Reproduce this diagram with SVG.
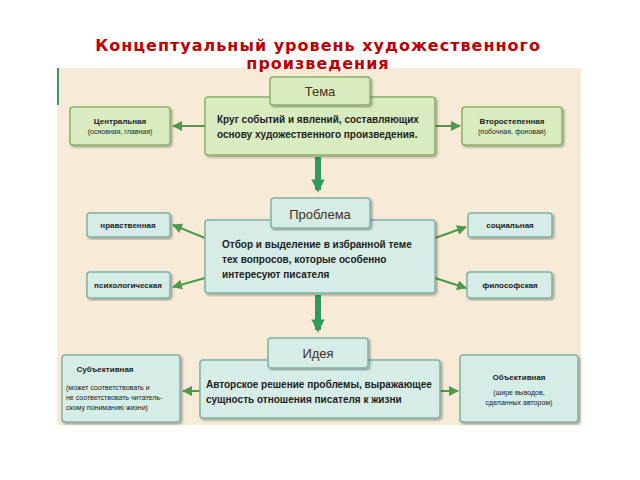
<svg xmlns="http://www.w3.org/2000/svg" width="640" height="480" viewBox="0 0 640 480">
<style>
text{font-family:"Liberation Sans",Arial,sans-serif;fill:#222}
.t{font-family:"DejaVu Sans",sans-serif;font-weight:bold;font-size:16px;letter-spacing:1px;fill:#c00000;text-anchor:middle}
.g{fill:#d9ecc0;stroke:#8ab36a;stroke-width:1.5}
.b{fill:#d6ece6;stroke:#7fb3a6;stroke-width:1.5}
.m{font-size:10px;font-weight:bold}
.s{font-size:7px;text-anchor:middle}
.sl{font-size:7px}
.l{font-size:8px;font-weight:bold;text-anchor:middle}
.h{font-size:13px;text-anchor:middle;fill:#4a3020}
.c{stroke:#4f9a4a;stroke-width:2;fill:none}
.d{stroke:#2f9a5a;stroke-width:6;fill:none}
</style>
<defs>
<marker id="a" viewBox="0 0 10 10" refX="9" refY="5" markerWidth="5" markerHeight="5" orient="auto"><path d="M0,0L10,5L0,10z" fill="#4f9a4a"/></marker>
<marker id="da" viewBox="0 0 10 10" refX="8" refY="5" markerWidth="2.2" markerHeight="2.2" orient="auto"><path d="M0,0L10,5L0,10z" fill="#2f9a5a"/></marker>
<filter id="sh"><feDropShadow dx="1.5" dy="1.5" stdDeviation="1" flood-opacity="0.35"/></filter>
</defs>
<rect width="640" height="480" fill="#fff"/>
<rect x="57" y="68" width="524" height="357" fill="#f7ead6"/>
<line x1="58" y1="68" x2="58" y2="105" stroke="#3a9a5a" stroke-width="2"/>
<text class="t" x="318" y="51">Концептуальный уровень художественного</text>
<text class="t" x="318" y="69">произведения</text>
<g id="connectors">
<line class="c" x1="205" y1="126" x2="173" y2="126" marker-end="url(#a)"/>
<line class="c" x1="435" y1="126" x2="460" y2="126" marker-end="url(#a)"/>
<line class="d" x1="318" y1="157" x2="318" y2="190" marker-end="url(#da)"/>
<line class="c" x1="205" y1="238" x2="173" y2="225" marker-end="url(#a)"/>
<line class="c" x1="205" y1="278" x2="173" y2="287" marker-end="url(#a)"/>
<line class="c" x1="435" y1="238" x2="466" y2="227" marker-end="url(#a)"/>
<line class="c" x1="435" y1="278" x2="466" y2="288" marker-end="url(#a)"/>
<line class="d" x1="318" y1="295" x2="318" y2="330" marker-end="url(#da)"/>
<line class="c" x1="200" y1="391" x2="183" y2="391" marker-end="url(#a)"/>
<line class="c" x1="440" y1="391" x2="458" y2="391" marker-end="url(#a)"/>
</g>
<g id="tema">
<rect class="g" x="205" y="97" width="230" height="58" rx="3" filter="url(#sh)"/>
<rect class="g" x="270" y="77" width="100" height="28" rx="3" filter="url(#sh)"/>
<text class="h" x="320" y="96">Тема</text>
<text class="m" x="217" y="123">Круг событий и явлений, составляющих</text>
<text class="m" x="217" y="138">основу художественного произведения.</text>
</g>
<g id="central"><rect class="g" x="70" y="107" width="100" height="38" rx="3" filter="url(#sh)"/>
<text class="l" x="120" y="124">Центральная</text><text class="s" x="120" y="134">(основная, главная)</text></g>
<g id="secondary"><rect class="g" x="462" y="107" width="100" height="38" rx="3" filter="url(#sh)"/>
<text class="l" x="512" y="124">Второстепенная</text><text class="s" x="512" y="134">(побочная, фоновая)</text></g>
<g id="problema">
<rect class="b" x="205" y="220" width="230" height="73" rx="3" filter="url(#sh)"/>
<rect class="b" x="271" y="198" width="99" height="30" rx="3" filter="url(#sh)"/>
<text class="h" x="320" y="219">Проблема</text>
<text class="m" x="222" y="248">Отбор и выделение в избранной теме</text>
<text class="m" x="222" y="263">тех вопросов, которые особенно</text>
<text class="m" x="222" y="278">интересуют писателя</text>
</g>
<g id="moral"><rect class="b" x="87" y="213" width="83" height="24" rx="3" filter="url(#sh)"/><text class="l" x="128" y="228">нравственная</text></g>
<g id="psych"><rect class="b" x="87" y="272" width="83" height="26" rx="3" filter="url(#sh)"/><text class="l" x="128" y="288">психологическая</text></g>
<g id="social"><rect class="b" x="468" y="213" width="84" height="24" rx="3" filter="url(#sh)"/><text class="l" x="510" y="228">социальная</text></g>
<g id="philo"><rect class="b" x="467" y="272" width="85" height="26" rx="3" filter="url(#sh)"/><text class="l" x="510" y="288">философская</text></g>
<g id="ideya">
<rect class="b" x="200" y="360" width="240" height="58" rx="3" filter="url(#sh)"/>
<rect class="b" x="268" y="338" width="100" height="30" rx="3" filter="url(#sh)"/>
<text class="h" x="318" y="358">Идея</text>
<text class="m" x="206" y="388">Авторское решение проблемы, выражающее</text>
<text class="m" x="206" y="403">сущность отношения писателя к жизни</text>
</g>
<g id="subj"><rect class="b" x="62" y="355" width="118" height="67" rx="3" filter="url(#sh)"/>
<text class="l" x="105" y="372">Субъективная</text>
<text class="sl" x="66" y="390">(может соответствовать и</text>
<text class="sl" x="66" y="400">не соответствовать читатель-</text>
<text class="sl" x="66" y="410">скому пониманию жизни)</text></g>
<g id="obj"><rect class="b" x="460" y="355" width="118" height="67" rx="3" filter="url(#sh)"/>
<text class="l" x="519" y="380">Объективная</text>
<text class="s" x="519" y="395">(шире выводов,</text>
<text class="s" x="519" y="405">сделанных автором)</text></g>
</svg>
